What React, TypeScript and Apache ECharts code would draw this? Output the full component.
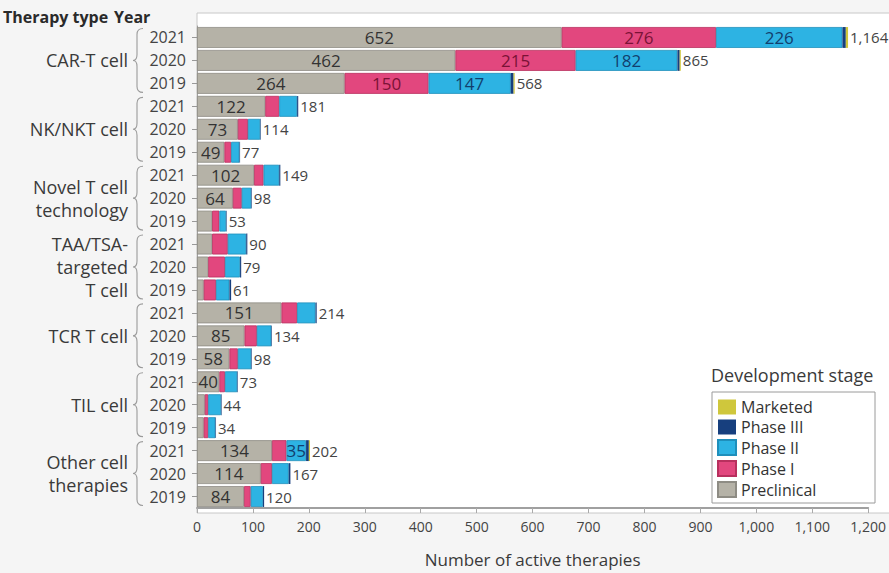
import React, { useEffect, useRef } from "react";
import * as echarts from "echarts";

const groups = [
  "CAR-T cell",
  "NK/NKT cell",
  "Novel T cell\ntechnology",
  "TAA/TSA-\ntargeted\nT cell",
  "TCR T cell",
  "TIL cell",
  "Other cell\ntherapies",
];
const years = ["2021", "2020", "2019"];
const rowKeys = groups.flatMap((g, i) => years.map((y) => `${i}|${y}`));

const preclinical = [652, 462, 264, 122, 73, 49, 102, 64, 27, 27, 20, 12, 151, 85, 58, 40, 14, 12, 134, 114, 84];
const phase1 = [276, 215, 150, 25, 18, 12, 17, 16, 13, 28, 30, 22, 28, 22, 15, 10, 6, 8, 26, 20, 12];
const phase2 = [226, 182, 147, 32, 22, 15, 28, 17, 12, 33, 27, 24, 33, 26, 24, 22, 23, 13, 35, 30, 22];
const phase3 = [6, 4, 5, 2, 1, 1, 2, 1, 1, 2, 2, 3, 2, 1, 1, 1, 1, 1, 5, 3, 2];
const marketed = [4, 2, 2, 0, 0, 0, 0, 0, 0, 0, 0, 0, 0, 0, 0, 0, 0, 0, 2, 0, 0];
const totals = [1164, 865, 568, 181, 114, 77, 149, 98, 53, 90, 79, 61, 214, 134, 98, 73, 44, 34, 202, 167, 120];
const xTicks = [0, 100, 200, 300, 400, 500, 600, 700, 800, 900, 1000, 1100, 1200];
const legendItems = ["Marketed", "Phase III", "Phase II", "Phase I", "Preclinical"];

const FONT = "Open Sans";
const fmt = (v: number) => v.toLocaleString("en-US");

function segLabel(color: string) {
  return {
    show: true,
    position: "inside",
    color,
    fontSize: 17,
    fontFamily: FONT,
    formatter: (p: any) => (p.value >= 35 ? String(p.value) : ""),
  };
}

export default function App() {
  const ref = useRef<HTMLDivElement>(null);
  useEffect(() => {
    const chart = echarts.init(ref.current!, null, { renderer: "svg" });
    const braceData = groups.map((g, i) => [0, i * 3, i * 3 + 2]);
    const option: any = {
      animation: false,
      backgroundColor: "#f5f5f5",
      textStyle: { fontFamily: FONT, color: "#3a3a3a" },
      grid: { left: 197, right: 18, top: 26, bottom: 60 },
      graphic: [
        {
          type: "rect",
          z: -1,
          shape: { x: 197, y: 13, width: 700, height: 500 },
          style: { fill: "#ffffff", stroke: "#c8c8c8", lineWidth: 1 },
        },
        {
          type: "text",
          left: 3,
          top: 9,
          style: { text: "Therapy type", font: `bold 16px '${FONT}'`, fill: "#2a2a2a" },
        },
        {
          type: "text",
          left: 114,
          top: 9,
          style: { text: "Year", font: `bold 16px '${FONT}'`, fill: "#2a2a2a" },
        },
        {
          type: "text",
          left: 711,
          top: 366,
          style: { text: "Development stage", font: `18px '${FONT}'`, fill: "#3a3a3a" },
        },
        {
          type: "rect",
          z: 1,
          shape: { x: 712, y: 392, width: 163, height: 111 },
          style: { fill: "#ffffff", stroke: "#9a9a9a", lineWidth: 1 },
        },
      ],
      legend: {
        orient: "vertical",
        left: 712,
        top: 397,
        padding: [2, 4, 2, 5],
        z: 5,
        data: legendItems,
        icon: "rect",
        itemWidth: 18,
        itemHeight: 15,
        itemGap: 4,
        textStyle: { fontSize: 16, color: "#333", fontFamily: FONT, lineHeight: 16 },
      },
      xAxis: {
        type: "value",
        min: 0,
        max: 1200,
        interval: 100,
        name: "Number of active therapies",
        nameLocation: "middle",
        nameGap: 43,
        nameTextStyle: { fontSize: 17, color: "#3a3a3a", fontFamily: FONT },
        axisLine: { show: true, lineStyle: { color: "#a0a0a0", width: 2 } },
        axisTick: { show: true, length: 5, lineStyle: { color: "#aaa" } },
        axisLabel: {
          fontSize: 14,
          color: "#444",
          margin: 11,
          formatter: (v: number) => (xTicks.includes(v) ? fmt(v) : ""),
        },
        splitLine: { show: false },
      },
      yAxis: [
        {
          type: "category",
          data: rowKeys,
          inverse: true,
          axisLine: { show: true, lineStyle: { color: "#a0a0a0", width: 1 } },
          axisTick: { show: true, alignWithLabel: true, length: 5, lineStyle: { color: "#999" } },
          axisLabel: {
            fontSize: 16,
            color: "#444",
            margin: 11,
            formatter: (v: string) => v.split("|")[1],
          },
        },
        {
          type: "category",
          data: groups,
          inverse: true,
          position: "left",
          axisLine: { show: false },
          axisTick: { show: false },
          axisLabel: {
            fontSize: 18,
            color: "#3a3a3a",
            margin: 69,
            lineHeight: 23,
            align: "right",
          },
        },
      ],
      series: [
        {
          name: "Preclinical",
          type: "bar",
          stack: "s",
          data: preclinical,
          barCategoryGap: "9%",
          itemStyle: { color: "#b5b2a7", borderColor: "#8e8c84", borderWidth: 0.8 },
          label: segLabel("#333"),
        },
        {
          name: "Phase I",
          type: "bar",
          stack: "s",
          data: phase1,
          itemStyle: { color: "#e2477e", borderColor: "#b8305e", borderWidth: 0.8 },
          label: segLabel("#7a1236"),
        },
        {
          name: "Phase II",
          type: "bar",
          stack: "s",
          data: phase2,
          itemStyle: { color: "#2db3e3", borderColor: "#1f8fbb", borderWidth: 0.8 },
          label: segLabel("#123f6e"),
        },
        {
          name: "Phase III",
          type: "bar",
          stack: "s",
          data: phase3,
          itemStyle: { color: "#173f7e" },
        },
        {
          name: "Marketed",
          type: "bar",
          stack: "s",
          data: marketed,
          itemStyle: { color: "#cfc73c" },
        },
        {
          name: "Total",
          type: "bar",
          stack: "s",
          data: totals.map(() => 0),
          itemStyle: { color: "transparent" },
          label: {
            show: true,
            position: "right",
            distance: 2,
            fontSize: 15,
            color: "#444",
            fontFamily: FONT,
            formatter: (p: any) => fmt(totals[p.dataIndex]),
          },
        },
        {
          name: "brace",
          type: "custom",
          data: braceData,
          encode: { x: 0, y: 1 },
          clip: false,
          silent: true,
          renderItem: (params: any, api: any) => {
            const top = api.coord([0, api.value(1)]);
            const bot = api.coord([0, api.value(2)]);
            const x0 = top[0];
            const y0 = top[1] - 9;
            const y1 = bot[1] + 9;
            const ym = (y0 + y1) / 2;
            const xr = x0 - 54;
            const xm = x0 - 60;
            const xl = x0 - 64;
            const r = 6;
            const d = `M${xr},${y0} Q${xm},${y0} ${xm},${y0 + r} L${xm},${ym - r} Q${xm},${ym} ${xl},${ym} Q${xm},${ym} ${xm},${ym + r} L${xm},${y1 - r} Q${xm},${y1} ${xr},${y1}`;
            return {
              type: "path",
              shape: { pathData: d },
              style: { fill: "none", stroke: "#9a9a9a", lineWidth: 1.1 },
            };
          },
        },
      ],
    };
    chart.setOption(option);
    return () => chart.dispose();
  }, []);
  return (
    <div
      ref={ref}
      style={{ position: "fixed", left: 0, top: 0, width: 889, height: 573 }}
    />
  );
}
